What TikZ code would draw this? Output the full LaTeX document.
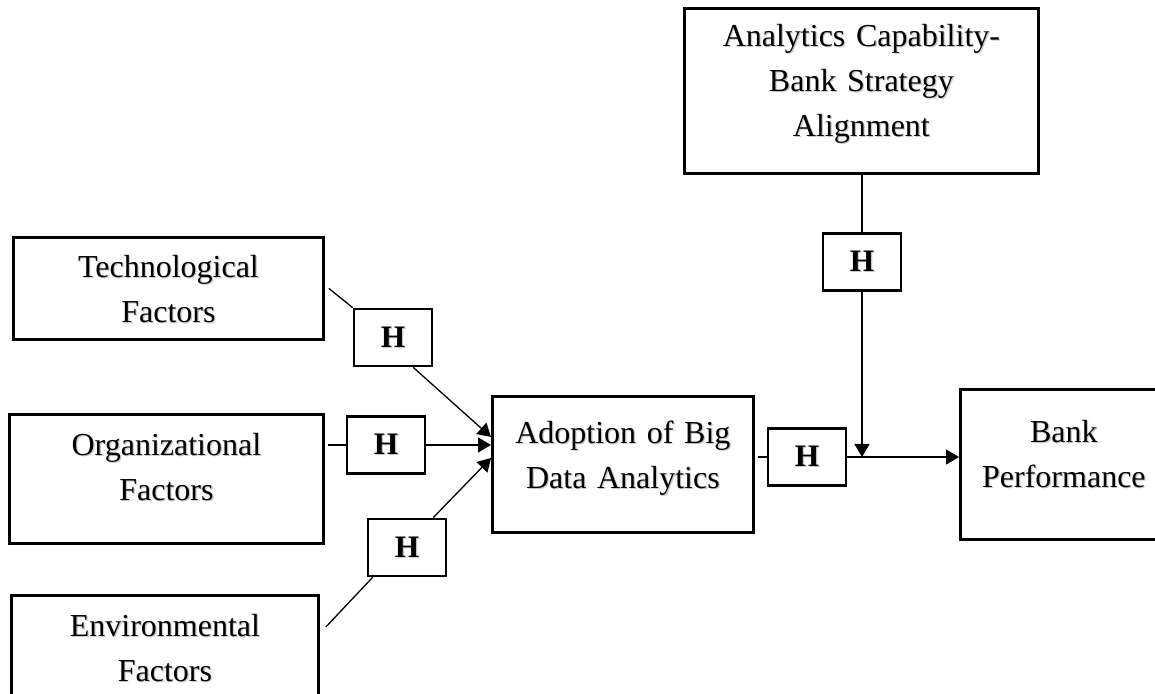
\documentclass[tikz,border=0pt]{standalone}
\usepackage{fontspec}
\setmainfont{Liberation Serif}
\usetikzlibrary{arrows.meta,calc}
\newcommand\shd[1]{\makebox[0pt][l]{\kern0.6pt\raisebox{-0.6pt}{\textcolor{black!22}{#1}}}#1}
\tikzset{
  box/.style={draw, line width=1.4pt, inner sep=0pt, align=center, anchor=north west,
    font=\fontsize{16}{22.5}\selectfont},
  hbox/.style={draw, line width=1.35pt, minimum width=39pt, minimum height=28.5pt,
    inner sep=0pt, font=\fontsize{15.65}{18}\selectfont\bfseries},
  conn/.style={line width=0.65pt},
  arr/.style={conn, -{Triangle[length=6.5pt,width=7.5pt]}}
}
\begin{document}
\begin{tikzpicture}[x=0.5pt,y=-0.5pt]
\clip (0,0) rectangle (1155,694);
\fill[white] (0,0) rectangle (1155,694);
% main boxes
\node[box, text width=155pt, text height=20pt, text depth=31pt] (tech) at (12,236)
  {\shd{Technological}\\\shd{Factors}};
\node[box, text width=157pt, text height=20.5pt, text depth=44pt] (org) at (8,413)
  {\shd{Organizational}\\\shd{Factors}};
\node[box, text width=153.5pt, text height=20.5pt, text depth=42.5pt] (env) at (10,594)
  {\shd{Environmental}\\\shd{Factors}};
\node[box, text width=177pt, text height=19pt, text depth=63.5pt] (ana) at (683,7)
  {\shd{Analytics Capability-}\\\shd{Bank Strategy}\\\shd{Alignment}};
\node[box, text width=130.5pt, text height=23.5pt, text depth=44.5pt] (ado) at (491,395)
  {\shd{Adoption of Big}\\\shd{Data Analytics}};
\node[box, text width=103.5pt, text height=26.5pt, text depth=48.5pt] (bank) at (959,388)
  {\shd{Bank}\\\shd{Performance}};
% hypothesis boxes
\node[hbox] (h1) at (393,337.5) {\shd{H}};
\node[hbox] (h2) at (386,445) {\shd{H}};
\node[hbox] (h3) at (407,547.5) {\shd{H}};
\node[hbox] (h4) at (807,457) {\shd{H}};
\node[hbox] (h5) at (862,262) {\shd{H}};
% connectors
\draw[conn] ($(tech.east)+(4,0)$) -- (h1.north west);
\draw[arr] ($(h1.south)!0.5!(h1.south east)$) -- ($(ado.north west)+(0,42)$);
\draw[conn] ($(org.north east)+(3,32)$) -- (h2.west);
\draw[arr] (h2.east) -- (h2.east -| ado.west);
\draw[conn] ($(env.north east)+(6,33)$) -- ($(h3.south west)+(6,0)$);
\draw[arr] ($(h3.north)!0.65!(h3.north east)$) -- ($(ado.north west)+(0,63)$);
\draw[conn, shorten <=1.5pt] (h4.west -| ado.east) -- (h4.west);
\draw[arr] (h4.east) -- (h4.east -| bank.west);
\draw[conn] (ana.south -| h5.north) -- (h5.north);
\draw[arr] (h5.south) -- (h5.south |- h4.east);
\end{tikzpicture}
\end{document}
